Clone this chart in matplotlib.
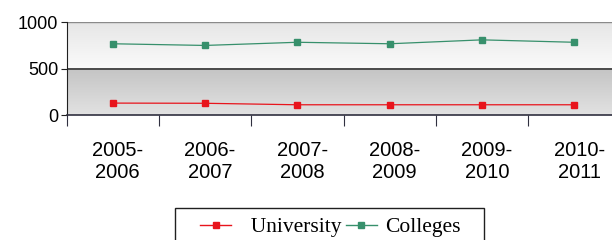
import numpy as np
import matplotlib
matplotlib.use('Agg')
import matplotlib.pyplot as plt
import matplotlib.transforms as mtransforms
from matplotlib.colors import LinearSegmentedColormap
from matplotlib.lines import Line2D
from matplotlib.patches import Rectangle

# ===== DATA =====
years = ['2005-\n2006', '2006-\n2007', '2007-\n2008',
         '2008-\n2009', '2009-\n2010', '2010-\n2011']
university = [128, 126, 110, 110, 110, 110]
colleges = [766, 748, 782, 766, 808, 782]
yticks = [0, 500, 1000]

RED = '#e8141c'
GREEN = '#37906c'
W, H = 612, 240

fig = plt.figure(figsize=(W / 100, H / 100), dpi=100)
fig.patch.set_facecolor('white')
ax = fig.add_axes([66.5 / W, 1 - 115 / H, 554 / W, 93 / H])

x = np.arange(len(years))
ax.set_xlim(-0.5, len(years) - 0.5)
ax.set_ylim(0, 1000)

# banded gradient background
grad = np.linspace(0, 1, 100).reshape(-1, 1)
upper = LinearSegmentedColormap.from_list('up', ['#fbfbfb', '#e6e6e6'])
lower = LinearSegmentedColormap.from_list('lo', ['#e2e2e2', '#c4c4c4'])
ax.imshow(grad, cmap=upper, aspect='auto', origin='lower',
          extent=[-0.5, len(years) - 0.5, 500, 1000], zorder=0)
ax.imshow(grad, cmap=lower, aspect='auto', origin='lower',
          extent=[-0.5, len(years) - 0.5, 0, 500], zorder=0)

ax.axhline(500, color='#383838', lw=1.2, zorder=1)
ax.axhline(1000, color='#8a8a8a', lw=1.0, zorder=1)

ax.plot(x, university, color=RED, lw=0.9, marker='s', ms=5,
        markeredgecolor=RED, zorder=3)
ax.plot(x, colleges, color=GREEN, lw=0.9, marker='s', ms=5,
        markeredgecolor=GREEN, zorder=3)

for s in ['top', 'right']:
    ax.spines[s].set_visible(False)
ax.spines['left'].set_color('#202020')
ax.spines['bottom'].set_color('#303040')
ax.spines['bottom'].set_linewidth(1.2)

ax.set_yticks(yticks)
ax.set_yticklabels([str(v) for v in yticks], fontsize=13,
                   family='Liberation Sans')
ax.tick_params(axis='y', length=4, pad=2, color='#202020')

# category ticks sit between categories, labels under points
ax.set_xticks(np.arange(len(years) + 1) - 0.5)
ax.set_xticklabels([])
ax.tick_params(axis='x', length=8, color='#303040')
offset = mtransforms.ScaledTranslation(5 / 100, -26 / 100, fig.dpi_scale_trans)
for xi, lab in zip(x, years):
    ax.text(xi, 0, lab, transform=ax.get_xaxis_transform() + offset,
            ha='center', va='top', fontsize=14.5, family='Liberation Sans',
            linespacing=1.2)

# legend with a hand-drawn frame
fig.patches.append(Rectangle((175 / W, -0.05), (484 - 175) / W,
                             1 - 208 / H + 0.05, transform=fig.transFigure,
                             facecolor='white', edgecolor='#202020', lw=1.0,
                             zorder=0))
handles = [Line2D([], [], color=RED, lw=1.0, marker='s', ms=4),
           Line2D([], [], color=GREEN, lw=1.0, marker='s', ms=4)]
leg = fig.legend(handles, ['  University', 'Colleges'], ncol=2,
                 loc='upper left', bbox_to_anchor=(200 / W, 1 - 217 / H),
                 prop={'family': 'Liberation Serif', 'size': 15.5},
                 frameon=False, handlelength=1.45, handletextpad=0.4,
                 columnspacing=0.2, borderpad=0, borderaxespad=0)

fig.savefig('out.png', dpi=100)
